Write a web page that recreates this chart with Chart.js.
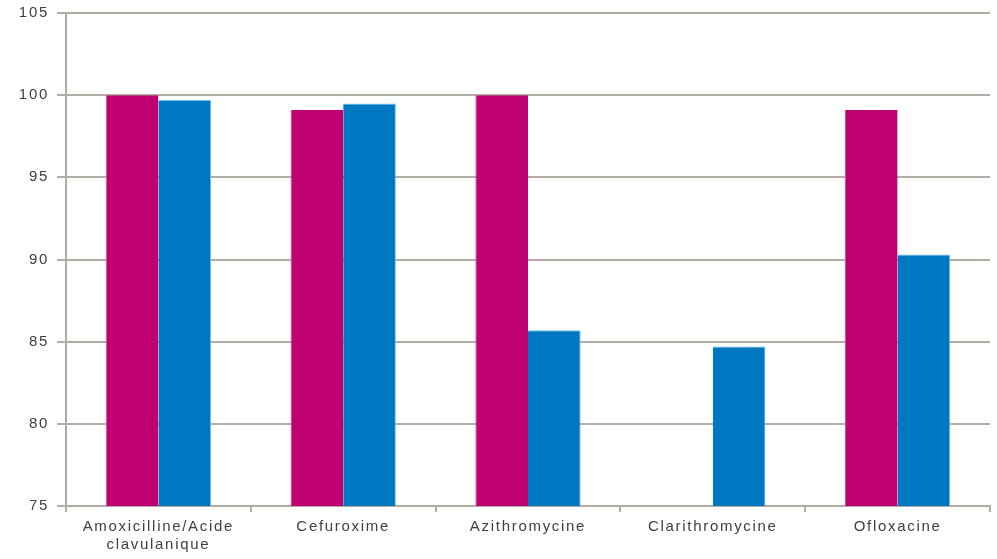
<!DOCTYPE html>
<html>
<head>
<meta charset="utf-8">
<script src="https://cdn.jsdelivr.net/npm/chart.js@4/dist/chart.umd.min.js"></script>
<style>
  html, body { margin: 0; padding: 0; background: #fff; }
  #wrap { width: 997px; height: 559px; }
</style>
</head>
<body>
<div id="wrap"><canvas id="chart"></canvas></div>
<script>
// categories and values
var categories = [["Amoxicilline/Acide", "clavulanique"], "Cefuroxime", "Azithromycine", "Clarithromycine", "Ofloxacine"];
var serieMagenta = [100, 99.1, 100, null, 99.1];
var serieBleue = [99.7, 99.5, 85.7, 84.7, 90.3];
var yTicks = [75, 80, 85, 90, 95, 100, 105];

var gridCol = "#b3aca4";

// the labels in the picture are spaced out a little
var spacing = {
    id: 'spacing',
    beforeDraw: function (chart) { chart.ctx.letterSpacing = '1.7px'; },
    afterDraw: function (chart) { chart.ctx.letterSpacing = '0px'; }
};

var ctx = document.getElementById("chart").getContext('2d');
var myBarChart = new Chart(ctx, {
    type: 'bar',
    data: {
        labels: categories,
        datasets: [
            {
                label: 'Série 1',
                data: serieMagenta,
                backgroundColor: "#bf0070",
                borderColor: "#d84a98",
                borderWidth: { top: 0, left: 1, right: 0, bottom: 0 },
                categoryPercentage: 0.57,
                barPercentage: 1
            },
            {
                label: 'Série 2',
                data: serieBleue,
                backgroundColor: "#0078c1",
                borderColor: "#6cc0ec",
                borderWidth: { top: 1, left: 0, right: 1, bottom: 0 },
                categoryPercentage: 0.57,
                barPercentage: 1
            }
        ]
    },
    plugins: [spacing],
    options: {
        responsive: true,
        maintainAspectRatio: false,
        animation: false,
        layout: { padding: { top: 13, right: 7, left: 0, bottom: 0 } },
        plugins: {
            legend: { display: false },
            tooltip: { enabled: false }
        },
        scales: {
            x: {
                grid: {
                    offset: true,
                    drawOnChartArea: false,
                    color: gridCol,
                    tickColor: gridCol,
                    tickLength: 6,
                    lineWidth: 2
                },
                border: { color: gridCol, width: 2 },
                ticks: {
                    color: "#404040",
                    font: { family: "Liberation Sans, Arial", size: 15, lineHeight: 1.25 },
                    padding: 5,
                    maxRotation: 0
                },
                afterFit: function (scale) { scale.height = 53; }
            },
            y: {
                min: 75,
                max: 105,
                afterBuildTicks: function (scale) {
                    scale.ticks = yTicks.map(function (v) { return { value: v }; });
                },
                grid: {
                    color: gridCol,
                    tickColor: gridCol,
                    tickLength: 9,
                    lineWidth: 2
                },
                border: { color: gridCol, width: 2 },
                ticks: {
                    color: "#404040",
                    font: { family: "Liberation Sans, Arial", size: 15 },
                    padding: 8
                },
                afterFit: function (scale) {
                    scale.width = 66;
                    scale.paddingTop = 0;
                    scale.paddingBottom = 0;
                }
            }
        }
    }
});
</script>
</body>
</html>
